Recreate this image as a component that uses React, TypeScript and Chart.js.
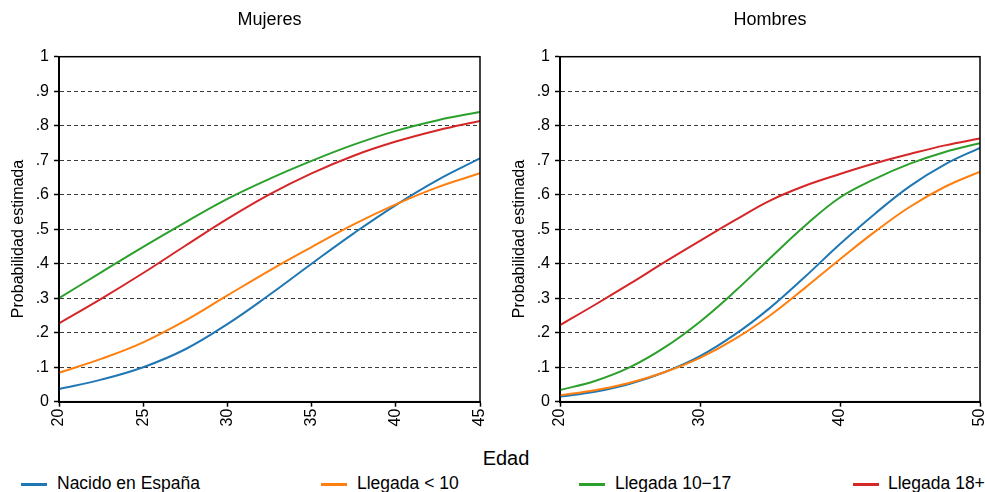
import React, { useEffect, useRef } from "react";
import { Chart, registerables } from "chart.js";
Chart.register(...registerables);

const FONT = '"Liberation Sans", Arial, Helvetica, sans-serif';

const seriesNames = ["Nacido en España", "Llegada < 10", "Llegada 10\u221217", "Llegada 18+"];
const seriesColors = ["#1f77b4", "#ff7f0e", "#2ca02c", "#d62728"];
const yTickLabels = ["0", ".1", ".2", ".3", ".4", ".5", ".6", ".7", ".8", ".9", "1"];
const yAxisTitle = "Probabilidad estimada";

const edadMujeres = [20, 22.5, 25, 27.5, 30, 32.5, 35, 37.5, 40, 42.5, 45];
const mujNacido = [0.037, 0.064, 0.1, 0.152, 0.225, 0.31, 0.4, 0.488, 0.57, 0.643, 0.705];
const mujLlegada10 = [0.084, 0.124, 0.172, 0.235, 0.308, 0.38, 0.448, 0.514, 0.572, 0.622, 0.662];
const mujLlegada1017 = [0.3, 0.375, 0.449, 0.52, 0.588, 0.646, 0.698, 0.745, 0.785, 0.816, 0.84];
const mujLlegada18 = [0.227, 0.298, 0.373, 0.452, 0.53, 0.601, 0.662, 0.713, 0.754, 0.787, 0.814];

const edadHombres = [20, 22.5, 25, 27.5, 30, 32.5, 35, 37.5, 40, 42.5, 45, 47.5, 50];
const homNacido = [0.015, 0.029, 0.052, 0.086, 0.132, 0.195, 0.272, 0.362, 0.457, 0.545, 0.625, 0.688, 0.736];
const homLlegada10 = [0.019, 0.033, 0.055, 0.086, 0.127, 0.182, 0.25, 0.33, 0.413, 0.493, 0.565, 0.623, 0.667];
const homLlegada1017 = [0.034, 0.06, 0.1, 0.158, 0.232, 0.32, 0.416, 0.51, 0.592, 0.646, 0.69, 0.724, 0.749];
const homLlegada18 = [0.222, 0.281, 0.342, 0.405, 0.466, 0.526, 0.583, 0.626, 0.66, 0.691, 0.718, 0.743, 0.763];

const frame = {
  id: "frame",
  afterDraw(chart: any) {
    const { ctx, chartArea: a } = chart;
    ctx.save();
    ctx.strokeStyle = "#000";
    ctx.lineWidth = 1.5;
    ctx.strokeRect(a.left, a.top, a.right - a.left, a.bottom - a.top);
    // y axis title, drawn rotated
    ctx.fillStyle = "#000";
    ctx.font = `16px ${FONT}`;
    ctx.textAlign = "center";
    ctx.textBaseline = "middle";
    ctx.translate(19, 239);
    ctx.rotate(-Math.PI / 2);
    ctx.fillText(yAxisTitle, 0, 0);
    ctx.restore();
  },
};

type PanelProps = {
  title: string;
  ages: number[];
  series: number[][];
  xMax: number;
  xStep: number;
  left: number;
  width: number;
  padRight: number;
};

function Panel({ title, ages, series, xMax, xStep, left, width, padRight }: PanelProps) {
  const ref = useRef<HTMLCanvasElement>(null);
  useEffect(() => {
    const chart = new Chart(ref.current as HTMLCanvasElement, {
      type: "line",
      data: {
        datasets: series.map((vals, i) => ({
          label: seriesNames[i],
          data: vals.map((v, j) => ({ x: ages[j], y: v })),
          borderColor: seriesColors[i],
          backgroundColor: seriesColors[i],
          borderWidth: 2,
          pointRadius: 0,
          fill: false,
          tension: 0.4,
          order: series.length - i,
        })),
      },
      plugins: [frame],
      options: {
        animation: false,
        responsive: false,
        layout: { padding: { top: 0, left: 0, right: padRight, bottom: 0 } },
        plugins: {
          legend: { display: false },
          tooltip: { enabled: false },
          title: {
            display: true,
            text: title,
            fullSize: false,
            color: "#000",
            font: { family: FONT, size: 18, weight: "normal" },
            padding: { top: 9.2, bottom: 25.9 },
          },
        },
        scales: {
          x: {
            type: "linear",
            min: 20,
            max: xMax,
            afterFit: (s: any) => {
              s.height = 38.3;
              s.paddingLeft = 0;
              s.paddingRight = 0;
            },
            ticks: {
              stepSize: xStep,
              autoSkip: false,
              minRotation: 90,
              maxRotation: 90,
              padding: 2,
              color: "#000",
              font: { family: FONT, size: 16 },
            },
            grid: {
              drawOnChartArea: false,
              drawTicks: true,
              tickLength: 5,
              tickColor: "#000",
              tickWidth: 1.5,
            },
            border: { display: true, color: "#000", width: 2 },
          },
          y: {
            min: 0,
            max: 1,
            afterFit: (s: any) => {
              s.width = 59;
              s.paddingTop = 0;
              s.paddingBottom = 0;
            },
            ticks: {
              stepSize: 0.1,
              autoSkip: false,
              padding: 5,
              color: "#000",
              font: { family: FONT, size: 16 },
              callback: (_v: any, index: number) => yTickLabels[index],
            },
            grid: {
              drawTicks: true,
              tickLength: 5,
              tickColor: "#000",
              tickWidth: 1.5,
              lineWidth: 1,
              color: (c: any) =>
                c.tick && (c.tick.value === 0 || c.tick.value === 1) ? "rgba(0,0,0,0)" : "#3a3a3a",
            },
            border: { display: true, color: "#000", width: 2, dash: [4, 3] },
          },
        },
      },
    } as any);
    return () => chart.destroy();
  }, []);
  return (
    <canvas
      ref={ref}
      width={width}
      height={440}
      style={{ position: "absolute", left, top: 0, width, height: 440 }}
    />
  );
}

const legendLineX = [21, 321, 579, 853];
const legendTextX = [57, 357, 615, 888];

export default function App() {
  return (
    <div
      style={{
        position: "fixed",
        left: 0,
        top: 0,
        width: 985,
        height: 492,
        overflow: "hidden",
        background: "#fff",
        fontFamily: FONT,
        color: "#000",
      }}
    >
      <Panel
        title="Mujeres"
        ages={edadMujeres}
        series={[mujNacido, mujLlegada10, mujLlegada1017, mujLlegada18]}
        xMax={45}
        xStep={5}
        left={0}
        width={490}
        padRight={10}
      />
      <Panel
        title="Hombres"
        ages={edadHombres}
        series={[homNacido, homLlegada10, homLlegada1017, homLlegada18]}
        xMax={50}
        xStep={10}
        left={501}
        width={484}
        padRight={5}
      />
      <div
        style={{
          position: "absolute",
          left: 406,
          top: 446,
          width: 200,
          textAlign: "center",
          fontSize: 20,
          lineHeight: "24px",
        }}
      >
        Edad
      </div>
      {seriesNames.map((name, i) => (
        <React.Fragment key={name}>
          <div
            style={{
              position: "absolute",
              left: legendLineX[i],
              top: 483,
              width: 26,
              height: 3,
              background: seriesColors[i],
            }}
          />
          <div
            style={{
              position: "absolute",
              left: legendTextX[i],
              top: 473,
              fontSize: 17.5,
              lineHeight: "21px",
              whiteSpace: "nowrap",
            }}
          >
            {name}
          </div>
        </React.Fragment>
      ))}
    </div>
  );
}
